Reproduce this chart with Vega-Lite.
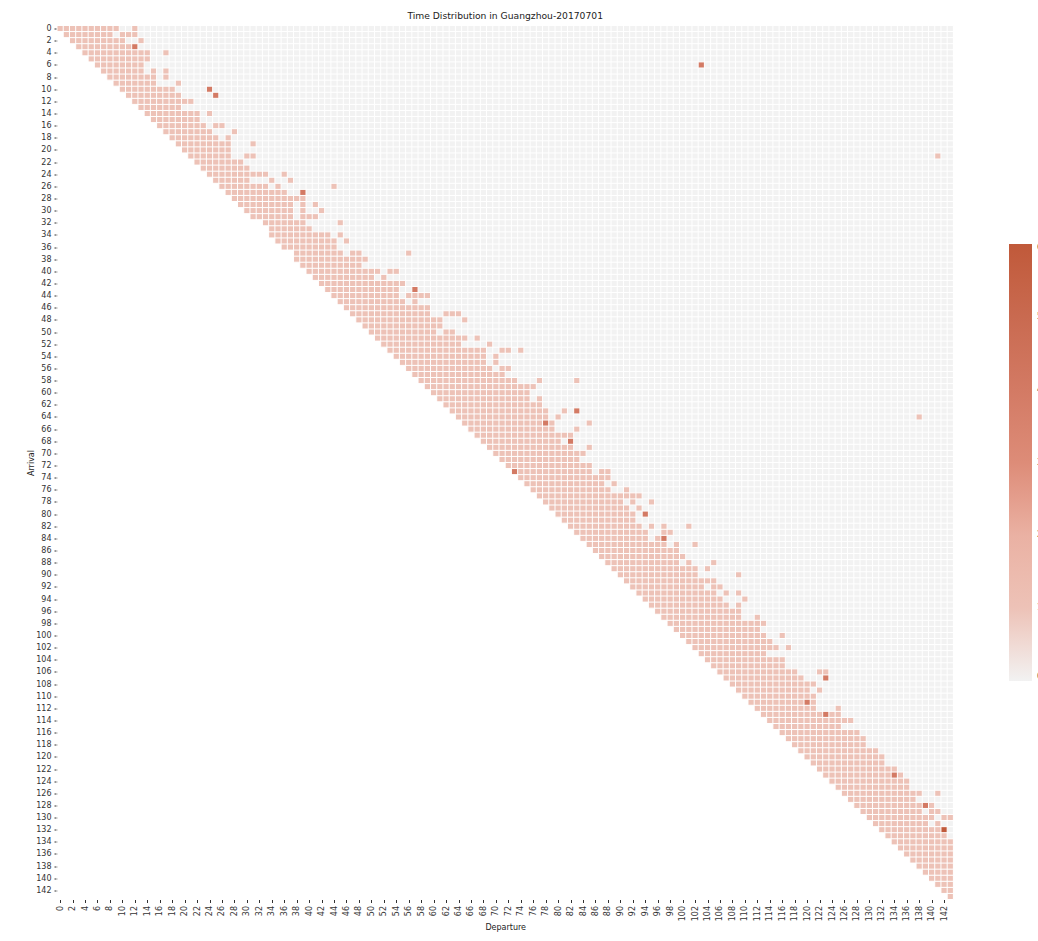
{"$schema":"https://vega.github.io/schema/vega-lite/v6.json","autosize":{"type":"none"},"padding":{"left":57,"top":25.5,"right":84.6,"bottom":41.5},"width":896.4,"height":874,"background":"white","title":{"text":"Time Distribution in Guangzhou-20170701","font":"DejaVu Sans","fontSize":9.2,"fontWeight":"normal","color":"#222222","anchor":"middle","offset":3},"config":{"view":{"stroke":null}},"resolve":{"axis":{"x":"independent","y":"independent"}},"datasets":{"g":[{"g":0},{"g":1},{"g":2},{"g":3},{"g":4},{"g":5},{"g":6},{"g":7},{"g":8},{"g":9},{"g":10},{"g":11},{"g":12},{"g":13},{"g":14},{"g":15},{"g":16},{"g":17},{"g":18},{"g":19},{"g":20},{"g":21},{"g":22},{"g":23},{"g":24},{"g":25},{"g":26},{"g":27},{"g":28},{"g":29},{"g":30},{"g":31},{"g":32},{"g":33},{"g":34},{"g":35},{"g":36},{"g":37},{"g":38},{"g":39},{"g":40},{"g":41},{"g":42},{"g":43},{"g":44},{"g":45},{"g":46},{"g":47},{"g":48},{"g":49},{"g":50},{"g":51},{"g":52},{"g":53},{"g":54},{"g":55},{"g":56},{"g":57},{"g":58},{"g":59},{"g":60},{"g":61},{"g":62},{"g":63},{"g":64},{"g":65},{"g":66},{"g":67},{"g":68},{"g":69},{"g":70},{"g":71},{"g":72},{"g":73},{"g":74},{"g":75},{"g":76},{"g":77},{"g":78},{"g":79},{"g":80},{"g":81},{"g":82},{"g":83},{"g":84},{"g":85},{"g":86},{"g":87},{"g":88},{"g":89},{"g":90},{"g":91},{"g":92},{"g":93},{"g":94},{"g":95},{"g":96},{"g":97},{"g":98},{"g":99},{"g":100},{"g":101},{"g":102},{"g":103},{"g":104},{"g":105},{"g":106},{"g":107},{"g":108},{"g":109},{"g":110},{"g":111},{"g":112},{"g":113},{"g":114},{"g":115},{"g":116},{"g":117},{"g":118},{"g":119},{"g":120},{"g":121},{"g":122},{"g":123},{"g":124},{"g":125},{"g":126},{"g":127},{"g":128},{"g":129},{"g":130},{"g":131},{"g":132},{"g":133},{"g":134},{"g":135},{"g":136},{"g":137},{"g":138},{"g":139},{"g":140},{"g":141},{"g":142},{"g":143},{"g":144}]},"layer":[{"data":{"values":[
{"a":0,"b":1,"s":0,"e":144,"v":0},{"a":1,"b":2,"s":1,"e":144,"v":0},{"a":2,"b":3,"s":2,"e":144,"v":0},{"a":3,"b":4,"s":3,"e":144,"v":0},{"a":4,"b":5,"s":4,"e":144,"v":0},{"a":5,"b":6,"s":5,"e":144,"v":0},{"a":6,"b":7,"s":6,"e":144,"v":0},{"a":7,"b":8,"s":7,"e":144,"v":0},{"a":8,"b":9,"s":8,"e":144,"v":0},{"a":9,"b":10,"s":9,"e":144,"v":0},{"a":10,"b":11,"s":10,"e":144,"v":0},{"a":11,"b":12,"s":11,"e":144,"v":0},{"a":12,"b":13,"s":12,"e":144,"v":0},{"a":13,"b":14,"s":13,"e":144,"v":0},{"a":14,"b":15,"s":14,"e":144,"v":0},{"a":15,"b":16,"s":15,"e":144,"v":0},{"a":16,"b":17,"s":16,"e":144,"v":0},{"a":17,"b":18,"s":17,"e":144,"v":0},{"a":18,"b":19,"s":18,"e":144,"v":0},{"a":19,"b":20,"s":19,"e":144,"v":0},{"a":20,"b":21,"s":20,"e":144,"v":0},{"a":21,"b":22,"s":21,"e":144,"v":0},{"a":22,"b":23,"s":22,"e":144,"v":0},{"a":23,"b":24,"s":23,"e":144,"v":0},{"a":24,"b":25,"s":24,"e":144,"v":0},{"a":25,"b":26,"s":25,"e":144,"v":0},{"a":26,"b":27,"s":26,"e":144,"v":0},{"a":27,"b":28,"s":27,"e":144,"v":0},{"a":28,"b":29,"s":28,"e":144,"v":0},{"a":29,"b":30,"s":29,"e":144,"v":0},{"a":30,"b":31,"s":30,"e":144,"v":0},{"a":31,"b":32,"s":31,"e":144,"v":0},{"a":32,"b":33,"s":33,"e":144,"v":0},{"a":33,"b":34,"s":34,"e":144,"v":0},{"a":34,"b":35,"s":34,"e":144,"v":0},{"a":35,"b":36,"s":35,"e":144,"v":0},{"a":36,"b":37,"s":36,"e":144,"v":0},{"a":37,"b":38,"s":38,"e":144,"v":0},{"a":38,"b":39,"s":38,"e":144,"v":0},{"a":39,"b":40,"s":39,"e":144,"v":0},{"a":40,"b":41,"s":40,"e":144,"v":0},{"a":41,"b":42,"s":41,"e":144,"v":0},{"a":42,"b":43,"s":42,"e":144,"v":0},{"a":43,"b":44,"s":43,"e":144,"v":0},{"a":44,"b":45,"s":44,"e":144,"v":0},{"a":45,"b":46,"s":45,"e":144,"v":0},{"a":46,"b":47,"s":46,"e":144,"v":0},{"a":47,"b":48,"s":47,"e":144,"v":0},{"a":48,"b":49,"s":48,"e":144,"v":0},{"a":49,"b":50,"s":49,"e":144,"v":0},{"a":50,"b":51,"s":50,"e":144,"v":0},{"a":51,"b":52,"s":51,"e":144,"v":0},{"a":52,"b":53,"s":52,"e":144,"v":0},{"a":53,"b":54,"s":53,"e":144,"v":0},{"a":54,"b":55,"s":54,"e":144,"v":0},{"a":55,"b":56,"s":55,"e":144,"v":0},{"a":56,"b":57,"s":56,"e":144,"v":0},{"a":57,"b":58,"s":57,"e":144,"v":0},{"a":58,"b":59,"s":58,"e":144,"v":0},{"a":59,"b":60,"s":59,"e":144,"v":0},{"a":60,"b":61,"s":60,"e":144,"v":0},{"a":61,"b":62,"s":61,"e":144,"v":0},{"a":62,"b":63,"s":62,"e":144,"v":0},{"a":63,"b":64,"s":63,"e":144,"v":0},{"a":64,"b":65,"s":64,"e":144,"v":0},{"a":65,"b":66,"s":65,"e":144,"v":0},{"a":66,"b":67,"s":66,"e":144,"v":0},{"a":67,"b":68,"s":67,"e":144,"v":0},{"a":68,"b":69,"s":68,"e":144,"v":0},{"a":69,"b":70,"s":69,"e":144,"v":0},{"a":70,"b":71,"s":70,"e":144,"v":0},{"a":71,"b":72,"s":71,"e":144,"v":0},{"a":72,"b":73,"s":72,"e":144,"v":0},{"a":73,"b":74,"s":73,"e":144,"v":0},{"a":74,"b":75,"s":74,"e":144,"v":0},{"a":75,"b":76,"s":75,"e":144,"v":0},{"a":76,"b":77,"s":76,"e":144,"v":0},{"a":77,"b":78,"s":77,"e":144,"v":0},{"a":78,"b":79,"s":78,"e":144,"v":0},{"a":79,"b":80,"s":79,"e":144,"v":0},{"a":80,"b":81,"s":80,"e":144,"v":0},{"a":81,"b":82,"s":81,"e":144,"v":0},{"a":82,"b":83,"s":82,"e":144,"v":0},{"a":83,"b":84,"s":83,"e":144,"v":0},{"a":84,"b":85,"s":84,"e":144,"v":0},{"a":85,"b":86,"s":85,"e":144,"v":0},{"a":86,"b":87,"s":86,"e":144,"v":0},{"a":87,"b":88,"s":87,"e":144,"v":0},{"a":88,"b":89,"s":88,"e":144,"v":0},{"a":89,"b":90,"s":89,"e":144,"v":0},{"a":90,"b":91,"s":90,"e":144,"v":0},{"a":91,"b":92,"s":91,"e":144,"v":0},{"a":92,"b":93,"s":92,"e":144,"v":0},{"a":93,"b":94,"s":93,"e":144,"v":0},{"a":94,"b":95,"s":94,"e":144,"v":0},{"a":95,"b":96,"s":95,"e":144,"v":0},{"a":96,"b":97,"s":96,"e":144,"v":0},{"a":97,"b":98,"s":97,"e":144,"v":0},{"a":98,"b":99,"s":98,"e":144,"v":0},{"a":99,"b":100,"s":99,"e":144,"v":0},{"a":100,"b":101,"s":100,"e":144,"v":0},{"a":101,"b":102,"s":101,"e":144,"v":0},{"a":102,"b":103,"s":102,"e":144,"v":0},{"a":103,"b":104,"s":103,"e":144,"v":0},{"a":104,"b":105,"s":104,"e":144,"v":0},{"a":105,"b":106,"s":105,"e":144,"v":0},{"a":106,"b":107,"s":106,"e":144,"v":0},{"a":107,"b":108,"s":107,"e":144,"v":0},{"a":108,"b":109,"s":108,"e":144,"v":0},{"a":109,"b":110,"s":109,"e":144,"v":0},{"a":110,"b":111,"s":110,"e":144,"v":0},{"a":111,"b":112,"s":111,"e":144,"v":0},{"a":112,"b":113,"s":112,"e":144,"v":0},{"a":113,"b":114,"s":113,"e":144,"v":0},{"a":114,"b":115,"s":114,"e":144,"v":0},{"a":115,"b":116,"s":115,"e":144,"v":0},{"a":116,"b":117,"s":116,"e":144,"v":0},{"a":117,"b":118,"s":117,"e":144,"v":0},{"a":118,"b":119,"s":118,"e":144,"v":0},{"a":119,"b":120,"s":119,"e":144,"v":0},{"a":120,"b":121,"s":120,"e":144,"v":0},{"a":121,"b":122,"s":121,"e":144,"v":0},{"a":122,"b":123,"s":122,"e":144,"v":0},{"a":123,"b":124,"s":123,"e":144,"v":0},{"a":124,"b":125,"s":124,"e":144,"v":0},{"a":125,"b":126,"s":125,"e":144,"v":0},{"a":126,"b":127,"s":126,"e":144,"v":0},{"a":127,"b":128,"s":127,"e":144,"v":0},{"a":128,"b":129,"s":128,"e":144,"v":0},{"a":129,"b":130,"s":129,"e":144,"v":0},{"a":130,"b":131,"s":130,"e":144,"v":0},{"a":131,"b":132,"s":131,"e":144,"v":0},{"a":132,"b":133,"s":132,"e":144,"v":0},{"a":133,"b":134,"s":133,"e":144,"v":0},
{"a":0,"b":1,"s":0,"e":10,"v":1},{"a":0,"b":1,"s":12,"e":13,"v":1},{"a":1,"b":2,"s":1,"e":9,"v":1},{"a":1,"b":2,"s":10,"e":13,"v":1},{"a":2,"b":3,"s":2,"e":11,"v":1},{"a":2,"b":3,"s":13,"e":14,"v":1},{"a":3,"b":4,"s":3,"e":12,"v":1},{"a":3,"b":4,"s":12,"e":13,"v":4},{"a":4,"b":5,"s":4,"e":15,"v":1},{"a":4,"b":5,"s":17,"e":18,"v":1},{"a":5,"b":6,"s":5,"e":15,"v":1},{"a":6,"b":7,"s":6,"e":14,"v":1},{"a":6,"b":7,"s":103,"e":104,"v":4},{"a":7,"b":8,"s":7,"e":14,"v":1},{"a":7,"b":8,"s":15,"e":16,"v":1},{"a":7,"b":8,"s":17,"e":18,"v":1},{"a":8,"b":9,"s":8,"e":16,"v":1},{"a":8,"b":9,"s":17,"e":18,"v":1},{"a":9,"b":10,"s":9,"e":16,"v":1},{"a":9,"b":10,"s":19,"e":20,"v":1},{"a":10,"b":11,"s":10,"e":19,"v":1},{"a":10,"b":11,"s":24,"e":25,"v":4},{"a":11,"b":12,"s":11,"e":20,"v":1},{"a":11,"b":12,"s":25,"e":26,"v":4},{"a":12,"b":13,"s":12,"e":22,"v":1},{"a":13,"b":14,"s":13,"e":20,"v":1},{"a":14,"b":15,"s":14,"e":23,"v":1},{"a":14,"b":15,"s":24,"e":25,"v":1},{"a":15,"b":16,"s":15,"e":23,"v":1},{"a":16,"b":17,"s":16,"e":24,"v":1},{"a":16,"b":17,"s":25,"e":27,"v":1},{"a":17,"b":18,"s":17,"e":25,"v":1},{"a":17,"b":18,"s":28,"e":29,"v":1},{"a":18,"b":19,"s":18,"e":26,"v":1},{"a":18,"b":19,"s":27,"e":28,"v":1},{"a":19,"b":20,"s":19,"e":28,"v":1},{"a":19,"b":20,"s":31,"e":32,"v":1},{"a":20,"b":21,"s":20,"e":28,"v":1},{"a":21,"b":22,"s":21,"e":28,"v":1},{"a":21,"b":22,"s":30,"e":32,"v":1},{"a":21,"b":22,"s":141,"e":142,"v":1},{"a":22,"b":23,"s":22,"e":30,"v":1},{"a":23,"b":24,"s":23,"e":31,"v":1},{"a":24,"b":25,"s":24,"e":34,"v":1},{"a":24,"b":25,"s":36,"e":37,"v":1},{"a":25,"b":26,"s":25,"e":31,"v":1},{"a":25,"b":26,"s":34,"e":35,"v":1},{"a":25,"b":26,"s":37,"e":38,"v":1},{"a":26,"b":27,"s":26,"e":34,"v":1},{"a":26,"b":27,"s":35,"e":36,"v":1},{"a":26,"b":27,"s":44,"e":45,"v":1},{"a":27,"b":28,"s":27,"e":37,"v":1},{"a":27,"b":28,"s":39,"e":40,"v":4},{"a":28,"b":29,"s":28,"e":40,"v":1},{"a":29,"b":30,"s":29,"e":38,"v":1},{"a":29,"b":30,"s":39,"e":40,"v":1},{"a":29,"b":30,"s":41,"e":42,"v":1},{"a":30,"b":31,"s":30,"e":38,"v":1},{"a":30,"b":31,"s":39,"e":40,"v":1},{"a":30,"b":31,"s":42,"e":43,"v":1},{"a":31,"b":32,"s":31,"e":38,"v":1},{"a":31,"b":32,"s":39,"e":42,"v":1},{"a":32,"b":33,"s":33,"e":40,"v":1},{"a":32,"b":33,"s":45,"e":46,"v":1},{"a":33,"b":34,"s":34,"e":41,"v":1},{"a":34,"b":35,"s":34,"e":44,"v":1},{"a":34,"b":35,"s":45,"e":46,"v":1},{"a":35,"b":36,"s":35,"e":45,"v":1},{"a":35,"b":36,"s":46,"e":47,"v":1},{"a":36,"b":37,"s":36,"e":45,"v":1},{"a":37,"b":38,"s":38,"e":46,"v":1},{"a":37,"b":38,"s":47,"e":49,"v":1},{"a":37,"b":38,"s":56,"e":57,"v":1},{"a":38,"b":39,"s":38,"e":50,"v":1},{"a":39,"b":40,"s":39,"e":49,"v":1},{"a":40,"b":41,"s":40,"e":52,"v":1},{"a":40,"b":41,"s":53,"e":55,"v":1},{"a":41,"b":42,"s":41,"e":51,"v":1},{"a":41,"b":42,"s":52,"e":53,"v":1},{"a":42,"b":43,"s":42,"e":56,"v":1},{"a":43,"b":44,"s":43,"e":55,"v":1},{"a":43,"b":44,"s":57,"e":58,"v":4},{"a":44,"b":45,"s":44,"e":55,"v":1},{"a":44,"b":45,"s":56,"e":60,"v":1},{"a":45,"b":46,"s":45,"e":56,"v":1},{"a":45,"b":46,"s":57,"e":58,"v":1},{"a":46,"b":47,"s":46,"e":60,"v":1},{"a":47,"b":48,"s":47,"e":60,"v":1},{"a":47,"b":48,"s":62,"e":65,"v":1},{"a":48,"b":49,"s":48,"e":62,"v":1},{"a":48,"b":49,"s":65,"e":66,"v":1},{"a":49,"b":50,"s":49,"e":62,"v":1},{"a":50,"b":51,"s":50,"e":61,"v":1},{"a":50,"b":51,"s":62,"e":64,"v":1},{"a":51,"b":52,"s":51,"e":66,"v":1},{"a":51,"b":52,"s":67,"e":68,"v":1},{"a":52,"b":53,"s":52,"e":65,"v":1},{"a":52,"b":53,"s":69,"e":70,"v":1},{"a":53,"b":54,"s":53,"e":69,"v":1},{"a":53,"b":54,"s":71,"e":73,"v":1},{"a":53,"b":54,"s":74,"e":75,"v":1},{"a":54,"b":55,"s":54,"e":69,"v":1},{"a":54,"b":55,"s":70,"e":71,"v":1},{"a":55,"b":56,"s":55,"e":69,"v":1},{"a":55,"b":56,"s":70,"e":71,"v":1},{"a":56,"b":57,"s":56,"e":70,"v":1},{"a":56,"b":57,"s":71,"e":73,"v":1},{"a":57,"b":58,"s":57,"e":72,"v":1},{"a":58,"b":59,"s":58,"e":74,"v":1},{"a":58,"b":59,"s":77,"e":78,"v":1},{"a":58,"b":59,"s":83,"e":84,"v":1},{"a":59,"b":60,"s":59,"e":77,"v":1},{"a":60,"b":61,"s":60,"e":76,"v":1},{"a":61,"b":62,"s":61,"e":76,"v":1},{"a":61,"b":62,"s":77,"e":78,"v":1},{"a":62,"b":63,"s":62,"e":78,"v":1},{"a":63,"b":64,"s":63,"e":79,"v":1},{"a":63,"b":64,"s":81,"e":82,"v":1},{"a":63,"b":64,"s":83,"e":84,"v":4},{"a":64,"b":65,"s":64,"e":79,"v":1},{"a":64,"b":65,"s":80,"e":81,"v":1},{"a":64,"b":65,"s":138,"e":139,"v":1},{"a":65,"b":66,"s":65,"e":78,"v":1},{"a":65,"b":66,"s":78,"e":79,"v":4},{"a":65,"b":66,"s":79,"e":80,"v":1},{"a":65,"b":66,"s":85,"e":86,"v":1},{"a":66,"b":67,"s":66,"e":80,"v":1},{"a":66,"b":67,"s":83,"e":84,"v":1},{"a":67,"b":68,"s":67,"e":83,"v":1},{"a":68,"b":69,"s":68,"e":81,"v":1},{"a":68,"b":69,"s":82,"e":83,"v":4},{"a":69,"b":70,"s":69,"e":83,"v":1},{"a":69,"b":70,"s":85,"e":86,"v":1},{"a":70,"b":71,"s":70,"e":85,"v":1},{"a":71,"b":72,"s":71,"e":84,"v":1},{"a":72,"b":73,"s":72,"e":86,"v":1},{"a":73,"b":74,"s":73,"e":74,"v":4},{"a":73,"b":74,"s":74,"e":86,"v":1},{"a":73,"b":74,"s":87,"e":89,"v":1},{"a":74,"b":75,"s":74,"e":89,"v":1},{"a":75,"b":76,"s":75,"e":88,"v":1},{"a":75,"b":76,"s":89,"e":90,"v":1},{"a":76,"b":77,"s":76,"e":89,"v":1},{"a":76,"b":77,"s":91,"e":92,"v":1},{"a":77,"b":78,"s":77,"e":94,"v":1},{"a":78,"b":79,"s":78,"e":91,"v":1},{"a":78,"b":79,"s":92,"e":93,"v":1},{"a":78,"b":79,"s":95,"e":96,"v":1},{"a":79,"b":80,"s":79,"e":92,"v":1},{"a":79,"b":80,"s":93,"e":94,"v":1},{"a":80,"b":81,"s":80,"e":93,"v":1},{"a":80,"b":81,"s":94,"e":95,"v":4},{"a":81,"b":82,"s":81,"e":93,"v":1},{"a":82,"b":83,"s":82,"e":94,"v":1},{"a":82,"b":83,"s":95,"e":96,"v":1},{"a":82,"b":83,"s":97,"e":98,"v":1},{"a":82,"b":83,"s":101,"e":102,"v":1},{"a":83,"b":84,"s":83,"e":95,"v":1},{"a":83,"b":84,"s":97,"e":99,"v":1},{"a":84,"b":85,"s":84,"e":95,"v":1},{"a":84,"b":85,"s":96,"e":97,"v":1},{"a":84,"b":85,"s":97,"e":98,"v":4},{"a":85,"b":86,"s":85,"e":98,"v":1},{"a":85,"b":86,"s":99,"e":100,"v":1},{"a":85,"b":86,"s":102,"e":103,"v":1},{"a":86,"b":87,"s":86,"e":100,"v":1},{"a":87,"b":88,"s":87,"e":101,"v":1},{"a":88,"b":89,"s":88,"e":100,"v":1},{"a":88,"b":89,"s":101,"e":102,"v":1},{"a":88,"b":89,"s":105,"e":106,"v":1},{"a":89,"b":90,"s":89,"e":103,"v":1},{"a":89,"b":90,"s":104,"e":105,"v":1},{"a":90,"b":91,"s":90,"e":103,"v":1},{"a":90,"b":91,"s":109,"e":110,"v":1},{"a":91,"b":92,"s":91,"e":106,"v":1},{"a":92,"b":93,"s":92,"e":104,"v":1},{"a":92,"b":93,"s":105,"e":107,"v":1},{"a":93,"b":94,"s":93,"e":106,"v":1},{"a":93,"b":94,"s":107,"e":108,"v":1},{"a":93,"b":94,"s":109,"e":110,"v":1},{"a":94,"b":95,"s":94,"e":107,"v":1},{"a":94,"b":95,"s":110,"e":111,"v":1},{"a":95,"b":96,"s":95,"e":108,"v":1},{"a":95,"b":96,"s":109,"e":110,"v":1},{"a":96,"b":97,"s":96,"e":110,"v":1},{"a":97,"b":98,"s":97,"e":110,"v":1},{"a":97,"b":98,"s":112,"e":113,"v":1},{"a":98,"b":99,"s":98,"e":114,"v":1},{"a":99,"b":100,"s":99,"e":113,"v":1},{"a":100,"b":101,"s":100,"e":114,"v":1},{"a":100,"b":101,"s":116,"e":117,"v":1},{"a":101,"b":102,"s":101,"e":115,"v":1},{"a":102,"b":103,"s":102,"e":116,"v":1},{"a":102,"b":103,"s":117,"e":118,"v":1},{"a":103,"b":104,"s":103,"e":114,"v":1},{"a":104,"b":105,"s":104,"e":117,"v":1},{"a":105,"b":106,"s":105,"e":117,"v":1},{"a":106,"b":107,"s":106,"e":119,"v":1},{"a":106,"b":107,"s":122,"e":124,"v":1},{"a":107,"b":108,"s":107,"e":120,"v":1},{"a":107,"b":108,"s":123,"e":124,"v":4},{"a":108,"b":109,"s":108,"e":122,"v":1},{"a":109,"b":110,"s":109,"e":121,"v":1},{"a":109,"b":110,"s":122,"e":123,"v":1},{"a":110,"b":111,"s":110,"e":122,"v":1},{"a":111,"b":112,"s":111,"e":120,"v":1},{"a":111,"b":112,"s":120,"e":121,"v":4},{"a":111,"b":112,"s":121,"e":122,"v":1},{"a":112,"b":113,"s":112,"e":122,"v":1},{"a":112,"b":113,"s":125,"e":126,"v":1},{"a":113,"b":114,"s":113,"e":123,"v":1},{"a":113,"b":114,"s":123,"e":124,"v":4},{"a":113,"b":114,"s":124,"e":126,"v":1},{"a":114,"b":115,"s":114,"e":128,"v":1},{"a":115,"b":116,"s":115,"e":126,"v":1},{"a":116,"b":117,"s":116,"e":129,"v":1},{"a":117,"b":118,"s":117,"e":130,"v":1},{"a":118,"b":119,"s":118,"e":130,"v":1},{"a":119,"b":120,"s":119,"e":132,"v":1},{"a":120,"b":121,"s":120,"e":133,"v":1},{"a":121,"b":122,"s":121,"e":133,"v":1},{"a":122,"b":123,"s":122,"e":135,"v":1},{"a":123,"b":124,"s":123,"e":134,"v":1},{"a":123,"b":124,"s":134,"e":135,"v":4},{"a":123,"b":124,"s":135,"e":136,"v":1},{"a":124,"b":125,"s":124,"e":137,"v":1},{"a":125,"b":126,"s":125,"e":137,"v":1},{"a":126,"b":127,"s":126,"e":139,"v":1},{"a":126,"b":127,"s":141,"e":142,"v":1},{"a":127,"b":128,"s":127,"e":138,"v":1},{"a":128,"b":129,"s":128,"e":139,"v":1},{"a":128,"b":129,"s":139,"e":140,"v":4},{"a":128,"b":129,"s":140,"e":141,"v":1},{"a":129,"b":130,"s":129,"e":139,"v":1},{"a":129,"b":130,"s":140,"e":142,"v":1},{"a":130,"b":131,"s":130,"e":141,"v":1},{"a":130,"b":131,"s":142,"e":144,"v":1},{"a":131,"b":132,"s":131,"e":140,"v":1},{"a":131,"b":132,"s":141,"e":142,"v":1},{"a":132,"b":133,"s":132,"e":142,"v":1},{"a":132,"b":133,"s":142,"e":143,"v":6},{"a":133,"b":134,"s":133,"e":143,"v":1},{"a":134,"b":135,"s":134,"e":144,"v":1},{"a":135,"b":136,"s":135,"e":144,"v":1},{"a":136,"b":137,"s":136,"e":144,"v":1},{"a":137,"b":138,"s":137,"e":144,"v":1},{"a":138,"b":139,"s":138,"e":144,"v":1},{"a":139,"b":140,"s":139,"e":144,"v":1},{"a":140,"b":141,"s":140,"e":144,"v":1},{"a":141,"b":142,"s":141,"e":144,"v":1},{"a":142,"b":143,"s":142,"e":144,"v":1},{"a":143,"b":144,"s":143,"e":144,"v":1}
]},"mark":{"type":"rect","stroke":null},"encoding":{"x":{"field":"s","type":"quantitative","scale":{"domain":[0,144],"nice":false,"zero":false},"axis":{"title":"Departure","titleFont":"DejaVu Sans","titleFontSize":8,"titleFontWeight":"normal","titleColor":"#222222","titlePadding":3,"domain":false,"grid":false,"tickSize":3,"tickColor":"#333333","labelFont":"DejaVu Sans","labelFontSize":8,"labelColor":"#333333","labelAngle":-90,"labelPadding":3,"labelOverlap":false,"labelExpr":"datum.value-0.5","values":[0.5,2.5,4.5,6.5,8.5,10.5,12.5,14.5,16.5,18.5,20.5,22.5,24.5,26.5,28.5,30.5,32.5,34.5,36.5,38.5,40.5,42.5,44.5,46.5,48.5,50.5,52.5,54.5,56.5,58.5,60.5,62.5,64.5,66.5,68.5,70.5,72.5,74.5,76.5,78.5,80.5,82.5,84.5,86.5,88.5,90.5,92.5,94.5,96.5,98.5,100.5,102.5,104.5,106.5,108.5,110.5,112.5,114.5,116.5,118.5,120.5,122.5,124.5,126.5,128.5,130.5,132.5,134.5,136.5,138.5,140.5,142.5]}},"x2":{"field":"e"},"y":{"field":"a","type":"quantitative","scale":{"domain":[0,144],"nice":false,"zero":false,"reverse":true},"axis":{"title":"Arrival","titleFont":"DejaVu Sans","titleFontSize":8,"titleFontWeight":"normal","titleColor":"#222222","titlePadding":0,"domain":false,"grid":false,"tickSize":3,"tickColor":"#333333","labelFont":"DejaVu Sans","labelFontSize":8,"labelColor":"#333333","labelPadding":3,"labelOverlap":false,"labelExpr":"datum.value-0.5","values":[0.5,2.5,4.5,6.5,8.5,10.5,12.5,14.5,16.5,18.5,20.5,22.5,24.5,26.5,28.5,30.5,32.5,34.5,36.5,38.5,40.5,42.5,44.5,46.5,48.5,50.5,52.5,54.5,56.5,58.5,60.5,62.5,64.5,66.5,68.5,70.5,72.5,74.5,76.5,78.5,80.5,82.5,84.5,86.5,88.5,90.5,92.5,94.5,96.5,98.5,100.5,102.5,104.5,106.5,108.5,110.5,112.5,114.5,116.5,118.5,120.5,122.5,124.5,126.5,128.5,130.5,132.5,134.5,136.5,138.5,140.5,142.5]}},"y2":{"field":"b"},"color":{"field":"v","type":"quantitative","scale":{"domain":[0,1,2,3,4,5,6],"range":["#f2f2f2","#edc2b7","#eab1a3","#dd8c78","#d37a64","#c96a50","#c0593a"]},"legend":{"orient":"none","legendX":952,"legendY":218.5,"title":null,"gradientLength":437,"gradientThickness":23,"values":[0,1,2,3,4,5,6],"labelFont":"DejaVu Sans","labelFontSize":8,"labelColor":"#333333","labelOffset":5,"labelOverlap":false}}}},{"data":{"name":"g"},"mark":{"type":"rule","color":"white","strokeWidth":1},"encoding":{"x":{"field":"g","type":"quantitative","scale":{"domain":[0,144],"nice":false,"zero":false},"axis":null}}},{"data":{"name":"g"},"mark":{"type":"rule","color":"white","strokeWidth":1},"encoding":{"y":{"field":"g","type":"quantitative","scale":{"domain":[0,144],"nice":false,"zero":false,"reverse":true},"axis":null}}}]}
